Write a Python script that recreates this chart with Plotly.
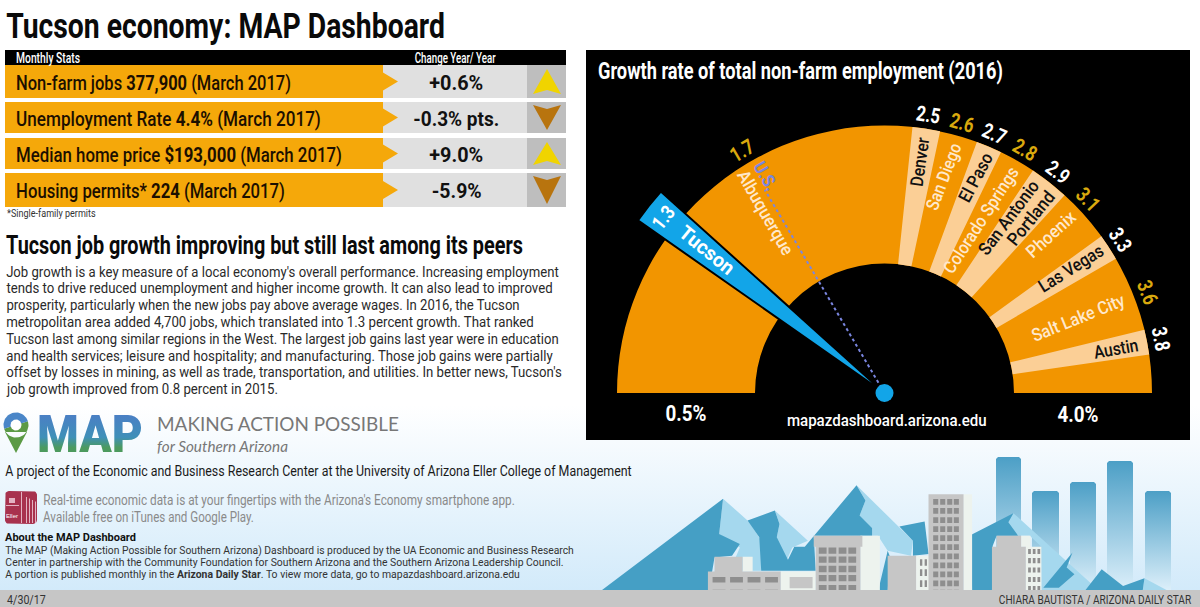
import numpy as np
import plotly.graph_objects as go

# ---------- data ----------
stat_labels = ["Non-farm jobs <b>377,900</b> (March 2017)",
               "Unemployment Rate <b>4.4%</b> (March 2017)",
               "Median home price <b>$193,000</b> (March 2017)",
               "Housing permits* <b>224</b> (March 2017)"]
stat_changes = ["+0.6%", "-0.3% pts.", "+9.0%", "-5.9%"]

cities = ["Albuquerque", "Denver", "San Diego", "El Paso", "Colorado Springs", "San Antonio",
          "Portland", "Phoenix", "Las Vegas", "Salt Lake City", "Austin"]
city_growth = [1.7, 2.5, 2.6, 2.7, 2.8, 2.9, 2.9, 3.1, 3.3, 3.6, 3.8]
tucson_growth = 1.3
us_growth = 1.7
gauge_min = 0.5
gauge_max = 4.0

# the gauge's printed scale (not evenly spaced in the reference)
scale_values = [0.5, 1.3, 1.7, 2.5, 2.6, 2.7, 2.8, 2.9, 3.1, 3.3, 3.6, 3.8, 4.0]
scale_degrees = [180, 141.5, 120.5, 81, 74, 67, 60, 52, 43.5, 33, 21, 11, 0]

body_lines = [
    "Job growth is a key measure of a local economy's overall performance. Increasing employment",
    "tends to drive reduced unemployment and higher income growth. It can also lead to improved",
    "prosperity, particularly when the new jobs pay above average wages. In 2016, the Tucson",
    "metropolitan area added 4,700 jobs, which translated into 1.3 percent growth. That ranked",
    "Tucson last among similar regions in the West. The largest job gains last year were in education",
    "and health services; leisure and hospitality; and manufacturing. Those job gains were partially",
    "offset by losses in mining, as well as trade, transportation, and utilities. In better news, Tucson's",
    "job growth improved from 0.8 percent in 2015."]
about_lines = [
    "The MAP (Making Action Possible for Southern Arizona) Dashboard is produced by the UA Economic and Business Research",
    "Center in partnership with the Community Foundation for Southern Arizona and the Southern Arizona Leadership Council.",
    "A portion is published monthly in the <b>Arizona Daily Star</b>. To view more data, go to mapazdashboard.arizona.edu"]

# ---------- styling / layout ----------
COND = "Roboto"
SANS = "Liberation Sans"
ORANGE = "#F29500"
LIGHT = "#FBCF96"
GOLD = "#D9A90E"
BLUE = "#12A5E8"
CX, CY = 884.5, 393
R_MAX = 310
R_IN, R_OUT = 129.5, 267.5

def deg(v):
    return np.interp(v, scale_values, scale_degrees)

fig = go.Figure()

def polys(color, shapes):
    xs, ys = [], []
    for s in shapes:
        xs += [p[0] for p in s] + [s[0][0], None]
        ys += [p[1] for p in s] + [s[0][1], None]
    fig.add_trace(go.Scatter(x=xs, y=ys, mode="lines", fill="toself", fillcolor=color,
                             line=dict(width=0, color=color), hoverinfo="skip", showlegend=False))

def rect(x0, y0, x1, y1):
    return [(x0, y0), (x1, y0), (x1, y1), (x0, y1)]

def grad(x0, y0, x1, y1, c0, c1, c=0):
    fig.add_trace(go.Scatter(x=[x0 + c, x1 - c, x1, x1, x0, x0, x0 + c], y=[y0, y0, y0 + c, y1, y1, y0 + c, y0],
                             mode="lines", fill="toself",
                             fillgradient=dict(type="vertical", start=y0, stop=y1,
                                               colorscale=[[0, c0], [1, c1]]),
                             line=dict(width=0), hoverinfo="skip", showlegend=False))

def z(points):  # skyline sketch coordinates to page pixels
    return [(590 + a / 2.57, 440 + b / 2.98) for a, b in points]

def zr(x0, y0, x1, y1):
    return z(rect(x0, y0, x1, y1))

anns = []
def text(x, y, s, size, color="#111111", family=COND, anchor="left", angle=0, w=None, weight=None):
    # w: printed length of the text; the post-script condenses the glyphs to it
    f = dict(family=family, size=size, color=color)
    if weight:
        f["weight"] = weight
    anns.append(dict(x=x, y=y, xref="x", yref="y", text=s, showarrow=False, xanchor=anchor, yanchor="middle",
                     textangle=angle, borderpad=0, font=f, name=str(w or "")))

# page background
grad(0, 405, 1200, 592, "#FFFFFF", "#D2EAFA")

# skyline bars
for x0, x1, top in [(996, 1021, 457), (1032, 1059, 491), (1070, 1096, 482), (1107, 1133, 461), (1145, 1171, 491)]:
    grad(x0, top, x1, 590, "#4C9FC6", "#DCEFFA", c=2)

# mountains
polys("#A5D8EE", [
    z([(342,175),(410,245),(440,300),(440,390),(360,390),(385,320),(332,280)]),
    z([(475,210),(560,300),(520,320),(495,385),(480,290),(487,250)]),
    z([(685,135),(830,300),(825,345),(765,330),(740,285),(725,285),(725,262),(693,225),(708,180)]),
    z([(1088,218),(1300,440),(1300,452),(1160,452),(1160,318),(1130,285),(1100,285),(1075,245)]),
    z([(1425,412),(1490,452),(1420,452)]),
])
polys("#459FC5", [
    z([(25,452),(342,175),(332,280),(385,310),(365,345),(320,350),(305,452)]),
    z([(405,240),(475,210),(487,250),(480,290),(510,360),(495,390),(440,390),(435,290)]),
    z([(495,390),(525,318),(552,318),(685,135),(708,180),(693,225),(725,262),(725,285),(575,285),(580,390)]),
    z([(795,258),(860,243),(870,340),(830,345),(830,300)]),
    z([(740,452),(765,330),(770,345),(765,452)]),
    z([(980,282),(1088,218),(1075,245),(1100,285),(1045,285),(1035,315),(1033,452),(982,452)]),
    z([(1165,440),(1240,335),(1225,380),(1245,400),(1205,440)]),
    z([(1270,452),(1315,385),(1370,435),(1425,412),(1420,452)]),
])
# buildings
polys("#EDF3EE", [zr(392,348,418,392), zr(490,392,580,452), zr(695,285,745,452), zr(838,345,872,452),
                  zr(960,162,982,452), zr(1108,285,1132,318), zr(1120,318,1160,452)])
polys("#C6C6C6", [zr(303,392,490,452), zr(320,348,392,392), zr(513,408,572,442), zr(575,285,700,318),
                  zr(580,318,695,452), zr(765,345,838,452), zr(870,162,960,452), zr(1045,285,1108,318),
                  zr(1033,318,1120,452)])
win = []
for a in (315, 360, 405, 450):
    win += [zr(a, 408, a + 33, 425), zr(a, 446, a + 33, 452)]
for a in (588, 613, 639, 664):
    for b in (320, 347, 375, 402, 432):
        win.append(zr(a, b, a + 20, b + 19))
for a in (882, 900, 918, 935):
    for b in range(176, 450, 27):
        win.append(zr(a, b, a + 13, b + 17))
for a in (848, 860):
    for b in (355, 385, 418):
        win.append(zr(a, b, a + 6, b + 20))
for a in (1126, 1138, 1150):
    for b in (325, 352, 380, 408, 435):
        win.append(zr(a, b, a + 7, b + 15))
polys("#8E8E8E", win)
polys("#C6C6C6", [rect(0, 590, 1200, 607)])

# stats table
polys("#000000", [rect(5, 50, 566, 65), rect(586, 50, 1190, 440)])
row_tops = [65, 102, 138, 173]
row_bots = [98, 133, 169, 207]
polys("#E0E0E0", [rect(383, a, 527, b) for a, b in zip(row_tops, row_bots)])
polys("#BEBEBE", [rect(527, a, 566, b) for a, b in zip(row_tops, row_bots)])
polys("#F5A80A", [rect(5, a, 383, b) for a, b in zip(row_tops, row_bots)] +
      [[(383, (a + b) / 2 - 9), (398, (a + b) / 2), (383, (a + b) / 2 + 9)] for a, b in zip(row_tops, row_bots)])
ups, downs = [], []
for chg, a, b in zip(stat_changes, row_tops, row_bots):
    if chg.startswith("+"):
        ups.append([(533, b - 4), (547, a + 4), (561, b - 4), (547, b - 8)])
    else:
        downs.append([(533, a + 3), (547, a + 7), (561, a + 3), (547, b - 3)])
polys("#F0D400", ups)
polys("#B8740E", downs)

# MAP pin
t = np.linspace(0, 2 * np.pi, 61)
polys("#5B9A45", [[(5, 432), (16, 453), (27, 432)],
                  list(zip(16 + 12.5 * np.cos(t[:31] - 0.3), 425 + 12.5 * np.sin(t[:31] - 0.3)))])
polys("#4A86C8", [list(zip(16 + 12.5 * np.cos(t[30:] - 0.3), 425 + 12.5 * np.sin(t[30:] - 0.3)))])
polys("#FFFFFF", [list(zip(16 + 5.5 * np.cos(t), 425 + 5.5 * np.sin(t)))])
# app icon
a_ = np.linspace(0, np.pi / 2, 7)
corner = []
for cx_, cy_, off in [(33, 520, 0), (9, 520, np.pi / 2), (9, 495, np.pi), (33, 495, 3 * np.pi / 2)]:
    corner += list(zip(cx_ + 4 * np.cos(a_ + off), cy_ + 4 * np.sin(a_ + off)))
polys("#A8324E", [corner])
polys("#E3B3C2", [rect(x_, 497 + (x_ - 26) * 0.5, x_ + 1, 523) for x_ in (26, 29, 32, 35)] +
      [rect(6, 505, 19, 506), rect(9, 498, 15, 503), rect(21, 492, 22, 523)])

# ---------- gauge ----------
mid = (deg(gauge_min) + deg(gauge_max)) / 2
span = deg(gauge_min) - deg(gauge_max)
fig.add_trace(go.Barpolar(theta=[mid], r=[R_OUT - R_IN], base=[R_IN], width=[span],
                          marker=dict(color=ORANGE, line=dict(width=0)), hoverinfo="skip", showlegend=False))
light_vals = [2.5, 2.7, 2.9, 3.3, 3.8]
light_widths = [6, 5.6, 8.6, 5.7, 5.4]
fig.add_trace(go.Barpolar(theta=[deg(v) for v in light_vals], r=[R_OUT - R_IN] * 5, base=[R_IN] * 5,
                          width=light_widths, marker=dict(color=LIGHT, line=dict(width=0)),
                          hoverinfo="skip", showlegend=False))
fig.add_trace(go.Scatterpolar(theta=[deg(us_growth), deg(us_growth)], r=[0, 236], mode="lines",
                              line=dict(color="#7A86E0", width=2, dash="3px,3px"), hoverinfo="skip", showlegend=False))
fig.add_trace(go.Barpolar(theta=[deg(tucson_growth)], r=[301], base=[0], width=[7],
                          marker=dict(color=BLUE, line=dict(width=2, color="#000000")),
                          hoverinfo="skip", showlegend=False))
fig.add_trace(go.Scatterpolar(theta=[90], r=[0], mode="markers",
                              marker=dict(size=18, color=BLUE), hoverinfo="skip", showlegend=False))

# value labels around the gauge
def at(theta, r):
    a = np.radians(theta)
    return CX + r * np.cos(a), CY - r * np.sin(a)

value_labels = sorted(set(city_growth))
for i, v in enumerate(value_labels):
    x, y = at(deg(v), 281)
    text(x, y, f"<b>{v}</b>", 21, GOLD if i % 2 == 0 else "#FFFFFF", anchor="center", angle=90 - deg(v), w=24)
x, y = at(deg(tucson_growth), 282)
text(x, y, f"<b>{tucson_growth}</b>", 20, "#FFFFFF", anchor="center", angle=90 - deg(tucson_growth), w=24)

city_pos = {"Albuquerque": (766, 212, 60, "#FFE8CC", 95), "Denver": (919, 162, -82, "#111111", 50),
            "San Diego": (943, 176, -69, "#FFE8CC", 70), "El Paso": (975, 177, -62, "#111111", 53),
            "Colorado Springs": (980, 220, -57, "#FFE8CC", 123), "San Antonio": (1008, 217, -53, "#111111", 88),
            "Portland": (1030, 218, -51, "#111111", 64), "Phoenix": (1050, 234, -42, "#FFE8CC", 60),
            "Las Vegas": (1070, 268, -32, "#111111", 73), "Salt Lake City": (1078, 317, -22, "#FFE8CC", 99),
            "Austin": (1116, 348, -10, "#111111", 45)}
for c in cities:
    x, y, a, col, length = city_pos[c]
    text(x, y, c, 18, col, anchor="center", angle=a, w=length, weight=500)
text(707, 250, "<b>Tucson</b>", 20, "#FFFFFF", anchor="center", angle=39, w=65)
text(766, 175, "<b>U.S.</b>", 18, "#7A86E0", anchor="center", angle=60, w=30)
text(686, 413, f"<b>{gauge_min}%</b>", 22, "#FFFFFF", anchor="center", w=41)
text(1078, 414, f"<b>{gauge_max}%</b>", 22, "#FFFFFF", anchor="center", w=41)
text(887, 420, "mapazdashboard.arizona.edu", 17, "#FFFFFF", anchor="center", w=200, weight=500)
text(597, 71, "<b>Growth rate of total non-farm employment (2016)</b>", 24, "#FFFFFF", w=405)

# ---------- left column text ----------
text(5, 26, "<b>Tucson economy: MAP Dashboard</b>", 36, "#0A0A0A", w=439)
text(15, 58, "Monthly Stats", 14, "#FFFFFF", w=64, weight=500)
text(454.5, 58, "Change Year/ Year", 14, "#FFFFFF", anchor="center", w=81, weight=500)
for s, c, a, b, w1, w2 in zip(stat_labels, stat_changes, row_tops, row_bots, [275, 305, 326, 269], [54, 86, 54, 50]):
    text(15, (a + b) / 2 + 1, s, 20, "#1C0F00", w=w1, weight=500)
    text(456, (a + b) / 2 + 1, f"<b>{c}</b>", 20, "#111111", anchor="center", w=w2)
text(6, 213, "*Single-family permits", 11, "#333333", w=89)
text(5, 245, "<b>Tucson job growth improving but still last among its peers</b>", 25, "#0A0A0A", w=517)
for s, y, r in zip(body_lines, [272, 288, 305, 322, 339, 356, 372, 389], [558, 552, 519, 533, 558, 552, 561, 277]):
    text(5, y, s, 15, "#2A2A2A", w=r - 5)
text(36, 434, "MAP", 52, "#4A86A8", w=106, weight=900)
text(156, 423, "MAKING ACTION POSSIBLE", 20, "#777777", family="Lato", w=242)
text(156, 445, "<i>for Southern Arizona</i>", 16, "#777777", family="Lato", w=131)
text(4, 471, "A project of the Economic and Business Research Center at the University of Arizona Eller College of Management",
     15.5, "#1A1A1A", w=627)
text(12, 516, "Eller", 6, "#FFFFFF", anchor="center", family=SANS)
text(42, 500, "Real-time economic data is at your fingertips with the Arizona's Economy smartphone app.", 14.5, "#8A8A8A", w=472)
text(42, 517, "Available free on iTunes and Google Play.", 14.5, "#8A8A8A", w=211)
text(4, 537, "<b>About the MAP Dashboard</b>", 11, "#111111", w=131)
for s, y, w in zip(about_lines, [550, 562, 574], [569, 559, 515]):
    text(4, y, s, 11, "#333333", w=w)
text(6, 600, "4/30/17", 12, "#333333", w=39)
text(1193, 600, "CHIARA BAUTISTA / ARIZONA DAILY STAR", 12, "#333333", anchor="right", w=193)

fig.update_layout(
    width=1200, height=607, margin=dict(l=0, r=0, t=0, b=0), paper_bgcolor="#FFFFFF", plot_bgcolor="#FFFFFF",
    showlegend=False, annotations=anns, hovermode=False,
    xaxis=dict(range=[0, 1200], visible=False, fixedrange=True),
    yaxis=dict(range=[607, 0], visible=False, fixedrange=True),
    polar=dict(
        domain=dict(x=[(CX - R_MAX) / 1200, (CX + R_MAX) / 1200], y=[(607 - CY) / 607, (607 - CY + R_MAX) / 607]),
        sector=[0, 180], bgcolor="rgba(0,0,0,0)", bargap=0,
        angularaxis=dict(visible=False, direction="counterclockwise", rotation=0),
        radialaxis=dict(visible=False, range=[0, R_MAX]),
    ),
)

# The reference is set in a condensed face: squeeze each text to its printed length, and drop the page margin.
POST = """
document.body.style.margin = '0';
var gd = document.querySelector('.plotly-graph-div');
gd.querySelectorAll('.annotation').forEach(function (g) {
  var ann = gd.layout.annotations[+g.getAttribute('data-index')];
  if (!ann || !ann.name) return;
  var t = g.querySelector('text.annotation-text');
  if (!t) return;
  var box = t.getBBox(), target = parseFloat(ann.name), k = target / box.width;
  var ox = ann.xanchor === 'left' ? box.x : ann.xanchor === 'right' ? box.x + box.width : box.x + box.width / 2;
  t.setAttribute('transform', 'translate(' + ox + ',0) scale(' + k + ',1) translate(' + (-ox) + ',0)');
  if (ann.text === 'MAP') {
    var svg = t.ownerSVGElement, ns = 'http://www.w3.org/2000/svg';
    var lg = document.createElementNS(ns, 'linearGradient');
    lg.setAttribute('id', 'mapgrad'); lg.setAttribute('x1', '0'); lg.setAttribute('y1', '0');
    lg.setAttribute('x2', '0'); lg.setAttribute('y2', '1');
    [[0.2, '#4A80C4'], [0.55, '#3F90B8'], [0.72, '#4C9A60'], [1, '#4C9A55']].forEach(function (s) {
      var st = document.createElementNS(ns, 'stop');
      st.setAttribute('offset', s[0]); st.setAttribute('stop-color', s[1]); lg.appendChild(st);
    });
    svg.querySelector('defs').appendChild(lg);
    t.style.fill = 'url(#mapgrad)';
  }
});
"""
fig.write_html("out.html", post_script=POST, config=dict(displayModeBar=False))
